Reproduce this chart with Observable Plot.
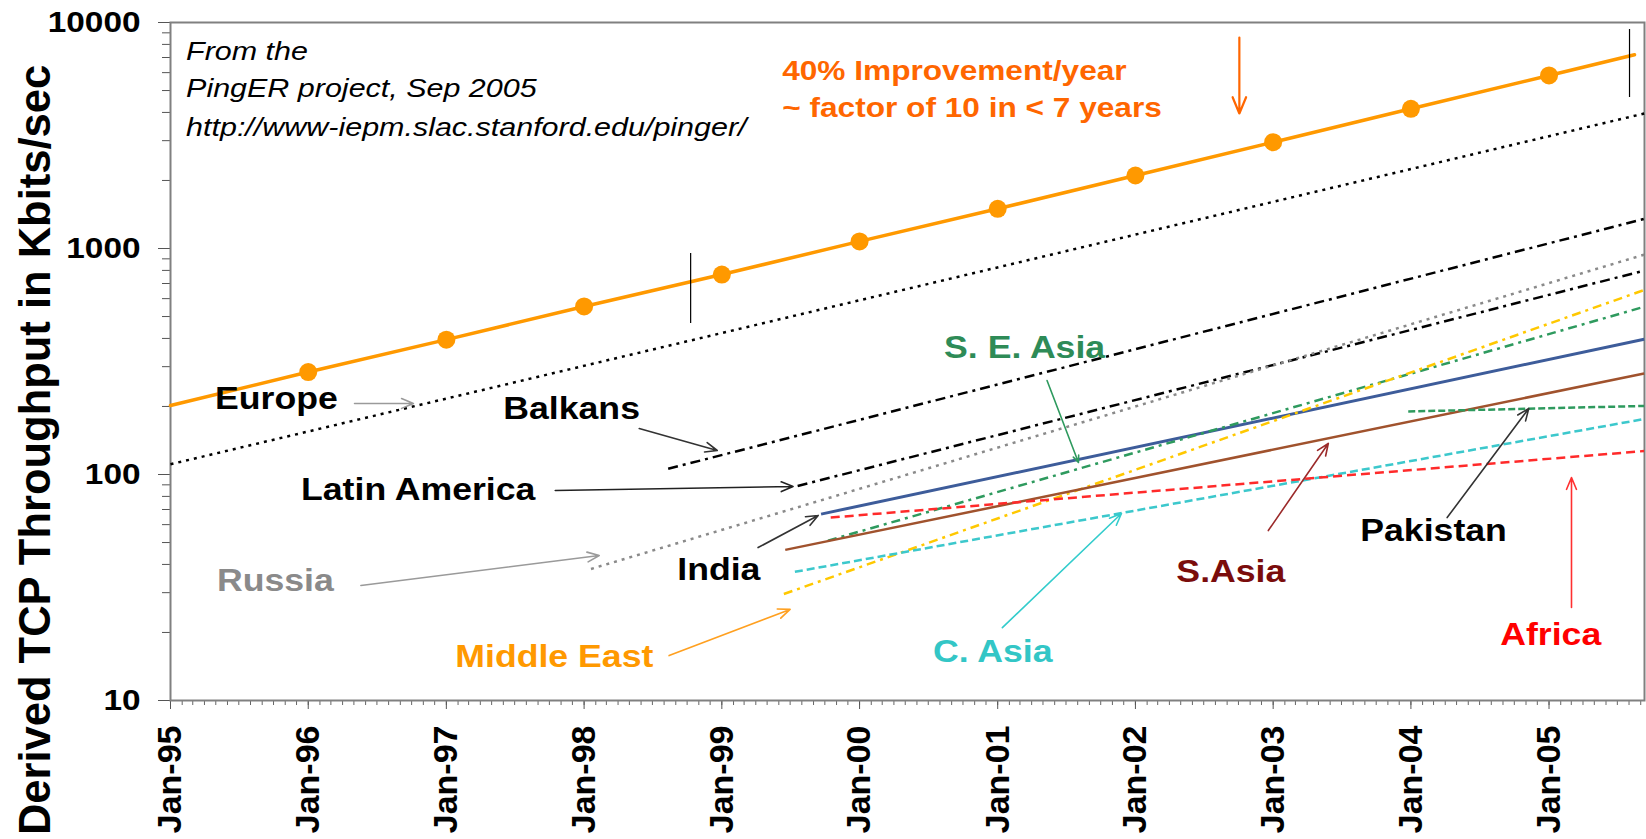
<!DOCTYPE html>
<html>
<head>
<meta charset="utf-8">
<script src="https://cdn.jsdelivr.net/npm/d3@7"></script>
<script src="https://cdn.jsdelivr.net/npm/@observablehq/plot@0.6"></script>
<style>
  html, body { margin: 0; padding: 0; background: #ffffff; }
  #chart svg { display: block; }
</style>
</head>
<body>
<div id="chart"></div>
<script>
// ---------------- DATA (decimal years, Kbits/sec) ----------------
// 40% improvement / year reference curve
const refYears  = [1995.0, 1996, 1997, 1998, 1999, 2000, 2001, 2002, 2003, 2004, 2005, 2005.62];
const refValues = [202, 284, 395, 554, 767, 1075, 1499, 2104, 2953, 4151, 5830, 7200];

// Regional trend lines (start and end of each fitted line)
const regions     = ["Europe", "Balkans", "Latin America", "Russia", "India", "S. E. Asia", "Middle East", "S.Asia", "C. Asia", "Africa", "Pakistan"];
const startYears  = [1995.0, 1998.61, 1999.55, 1998.05, 1999.72, 1999.77, 1999.45, 1999.46, 1999.53, 1999.79, 2003.98];
const startValues = [111, 106, 89, 38.2, 66.8, 51, 29.6, 46.4, 37.1, 64.5, 190];
const endYears    = [2005.69, 2005.69, 2005.69, 2005.69, 2005.69, 2005.69, 2005.69, 2005.69, 2005.69, 2005.69, 2005.69];
const endValues   = [3955, 1351, 798, 939, 397, 552, 655, 280, 176, 127, 201];

// Region labels (left edge, vertical middle) in data units
const labelNames  = ["Europe", "Balkans", "Latin America", "Russia", "India", "Middle East", "S. E. Asia", "S.Asia", "Pakistan", "C. Asia", "Africa"];
const labelYears  = [1995.323, 1997.413, 1995.947, 1995.337, 1998.676, 1997.065, 2000.613, 2002.297, 2003.632, 2000.533, 2004.648];
const labelValues = [215.8, 193.9, 85.4, 33.8, 37.6, 15.6, 362.8, 37.0, 56.2, 16.4, 19.5];

// Label pointer arrows (same order as labelNames)
const arrowFromYears  = [1996.336, 1998.400, 1997.790, 1996.382, 1999.263, 1998.617, 2001.358, 2002.964, 2004.263, 2001.034, 2005.163];
const arrowFromValues = [206.2, 159.8, 85.0, 32.3, 47.5, 15.8, 260.6, 56.5, 64.5, 21.0, 25.8];
const arrowToYears    = [1996.763, 1998.966, 1999.517, 1998.110, 1999.699, 1999.495, 2001.586, 2003.400, 2004.855, 2001.898, 2005.163];
const arrowToValues   = [206.2, 127.7, 88.5, 43.8, 65.9, 25.3, 113.0, 137.2, 195.9, 67.2, 97.0];

// Source note (top-left, italic)
const noteLines  = ["From the", "PingER project, Sep 2005", "http://www-iepm.slac.stanford.edu/pinger/"];
const noteYear   = 1995.113;
const noteValues = [7442, 5105, 3431];

// 40%/year annotation
const improveLines  = ["40% Improvement/year", "~ factor of 10 in < 7 years"];
const improveYear   = 1999.438;
const improveValues = [6071, 4164];
const improveArrow  = {year: 2002.754, from: 8583, to: 3956};

// "7 years" span markers
const spanYears = [1998.773, 2005.584];
const spanLow   = [465.7, 4657];
const spanHigh  = [950.5, 9312];

// Axes
const yMajor = [10, 100, 1000, 10000];
const yMinor = [10, 100, 1000].flatMap(d => [2, 3, 4, 5, 6, 7, 8, 9].map(m => m * d));
const xStart = new Date(Date.UTC(1995, 0, 1));
const xEnd   = new Date(Date.UTC(2005, 8, 11));
const yTitle = "Derived TCP Throughput in Kbits/sec";

// ---------------- STYLES ----------------
const seriesStyle = {
  "Europe":        {stroke: "#000000", dash: "3,5",      width: 2.5},
  "Balkans":       {stroke: "#000000", dash: "10,5,3,5", width: 2.5},
  "Latin America": {stroke: "#000000", dash: "10,5,3,5", width: 2.5},
  "Russia":        {stroke: "#8a8a8a", dash: "3,5",      width: 2.5},
  "India":         {stroke: "#3d5c9a", dash: null,       width: 3},
  "S. E. Asia":    {stroke: "#2e9a5e", dash: "9,5,3,5",  width: 2.5},
  "Middle East":   {stroke: "#ffc800", dash: "9,5,3,5",  width: 2.5},
  "S.Asia":        {stroke: "#a0522d", dash: null,       width: 2.5},
  "C. Asia":       {stroke: "#3cc8cc", dash: "8,4",      width: 2.5},
  "Africa":        {stroke: "#ff2a2a", dash: "9,5",      width: 2.5},
  "Pakistan":      {stroke: "#2e9a5e", dash: "7,3",      width: 2.5}
};
const labelStyle = {
  "Europe":        {fill: "#000000", arrow: "#9a9a9a", head: 12},
  "Balkans":       {fill: "#000000", arrow: "#333333", head: 12},
  "Latin America": {fill: "#000000", arrow: "#222222", head: 12},
  "Russia":        {fill: "#8a8a8a", arrow: "#9a9a9a", head: 12},
  "India":         {fill: "#000000", arrow: "#333333", head: 12},
  "Middle East":   {fill: "#ff9900", arrow: "#ffa020", head: 12},
  "S. E. Asia":    {fill: "#2e8b57", arrow: "#2e9a5e", head: 7},
  "S.Asia":        {fill: "#7a0c0c", arrow: "#9b2a2a", head: 12},
  "Pakistan":      {fill: "#000000", arrow: "#333333", head: 12},
  "C. Asia":       {fill: "#33c6c6", arrow: "#33cccc", head: 12},
  "Africa":        {fill: "#ff0000", arrow: "#ff3030", head: 12}
};
const ORANGE = "#ff9900";
const ORANGE_TEXT = "#ff6600";
const FONT = "'Liberation Sans', Arial, Helvetica, sans-serif";

// ---------------- BUILD ----------------
const toDate = (y) => {
  const Y = Math.floor(y);
  return new Date(Date.UTC(Y, 0, 1) + (y - Y) * 365.25 * 864e5);
};

const refRows = refYears.map((y, i) => ({date: toDate(y), value: refValues[i], year: y}));
const refMarkers = refRows.filter(d => Number.isInteger(d.year) && d.year > 1995);

const seriesMarks = regions.map((r, i) => {
  const s = seriesStyle[r];
  const rows = [
    {date: toDate(startYears[i]), value: startValues[i]},
    {date: toDate(endYears[i]), value: endValues[i]}
  ];
  return Plot.line(rows, {
    x: "date", y: "value", stroke: s.stroke, strokeWidth: s.width,
    strokeDasharray: s.dash ?? undefined, strokeLinecap: "butt"
  });
});

const labelMarks = labelNames.map((name, i) => Plot.text([name], {
  x: () => toDate(labelYears[i]), y: () => labelValues[i], text: d => d,
  textAnchor: "start", lineAnchor: "middle",
  fontSize: 31, fontWeight: "bold", fill: labelStyle[name].fill
}));

const arrowMarks = labelNames.map((name, i) => Plot.arrow([name], {
  x1: () => toDate(arrowFromYears[i]), y1: () => arrowFromValues[i],
  x2: () => toDate(arrowToYears[i]),   y2: () => arrowToValues[i],
  stroke: labelStyle[name].arrow, strokeWidth: 1.6,
  headLength: labelStyle[name].head, headAngle: 45
}));

const chart = Plot.plot({
  width: 1646,
  height: 839,
  marginLeft: 170,
  marginRight: 2,
  marginTop: 22,
  marginBottom: 139,
  style: {fontFamily: FONT, background: "#ffffff", color: "#000000", overflow: "visible"},
  x: {type: "utc", domain: [xStart, xEnd], label: null},
  y: {type: "log", domain: [10, 10000], label: null},
  marks: [
    // axes
    Plot.axisY({ticks: yMinor, tickSize: 8, tickFormat: () => "", stroke: "#555555", label: null}),
    Plot.axisY({ticks: yMajor, tickSize: 12, tickPadding: 18, tickFormat: d3.format("d"),
      fontSize: 29, fontWeight: "bold", stroke: "#555555", label: null}),
    Plot.axisX({ticks: d3.utcMonth.range(xStart, xEnd), tickSize: 5, tickFormat: () => "", stroke: "#666666", label: null}),
    Plot.axisX({ticks: d3.utcYear.range(xStart, xEnd), tickSize: 9, tickPadding: 16, tickRotate: -90,
      tickFormat: d3.utcFormat("%b-%y"), fontSize: 34, fontWeight: "bold", stroke: "#555555", label: null}),
    Plot.frame({stroke: "#808080", strokeWidth: 2}),

    // regional trend lines
    ...seriesMarks,

    // 40%/year reference
    Plot.line(refRows, {x: "date", y: "value", stroke: ORANGE, strokeWidth: 3.5}),
    Plot.dot(refMarkers, {x: "date", y: "value", r: 9, fill: ORANGE, stroke: "none"}),

    // 7-year span markers
    Plot.ruleX(spanYears, {x: (d) => toDate(d), y1: (d, i) => spanLow[i], y2: (d, i) => spanHigh[i], stroke: "#000000", strokeWidth: 1.2}),

    // annotation arrow and text
    Plot.arrow([improveArrow], {x1: d => toDate(d.year), x2: d => toDate(d.year), y1: "from", y2: "to",
      stroke: ORANGE_TEXT, strokeWidth: 2.2, headLength: 12, headAngle: 45}),
    Plot.text(improveLines, {x: () => toDate(improveYear), y: (d, i) => improveValues[i], text: d => d,
      textAnchor: "start", lineAnchor: "middle", fontSize: 27.5, fontWeight: "bold", fill: ORANGE_TEXT}),

    // source note
    Plot.text(noteLines, {x: () => toDate(noteYear), y: (d, i) => noteValues[i], text: d => d,
      textAnchor: "start", lineAnchor: "middle", fontSize: 26.5, fontStyle: "italic", fill: "#000000"}),

    // labels and pointers
    ...arrowMarks,
    ...labelMarks,

    // y-axis title
    Plot.text([yTitle], {frameAnchor: "left", rotate: -90, dx: -134.4, dy: 88.5, text: d => d,
      textAnchor: "middle", lineAnchor: "middle", fontSize: 43.5, fontWeight: "bold", fill: "#000000"})
  ]
});

// Horizontal texts in the original are rendered slightly wide: stretch them horizontally.
chart.querySelectorAll('g[aria-label="text"] text, g[aria-label="y-axis tick label"] text').forEach((t) => {
  const tr = t.getAttribute("transform") || "";
  if (tr.includes("rotate")) return;
  t.setAttribute("transform", (tr + " scale(1.15,1)").trim());
});

document.getElementById("chart").appendChild(chart);
</script>
</body>
</html>
